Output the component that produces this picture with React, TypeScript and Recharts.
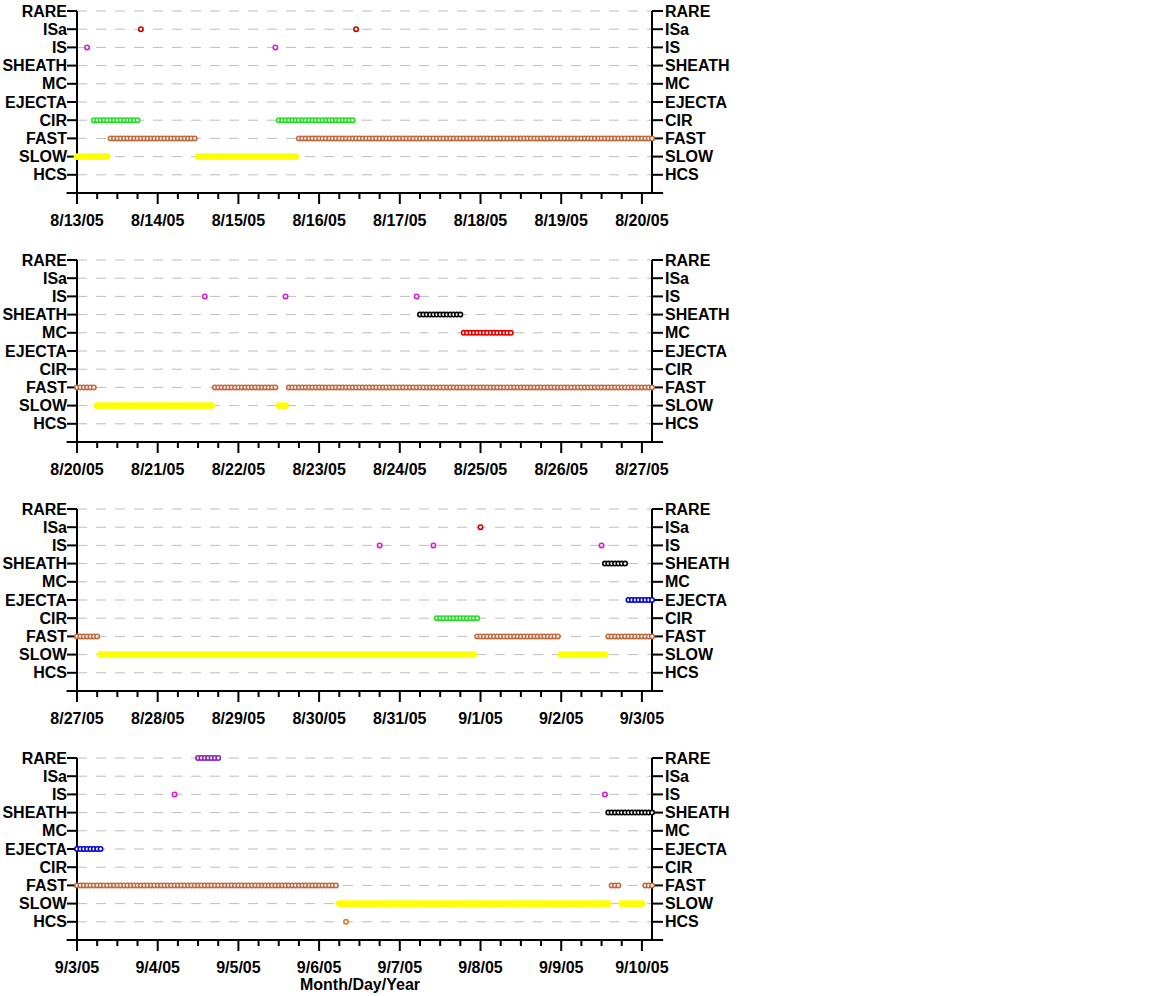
import React from "react";
import {
  CartesianGrid,
  ReferenceLine,
  Scatter,
  ScatterChart,
  XAxis,
  YAxis,
} from "recharts";

/* Solar wind classification by hour, four weekly panels */

const CLASSES = ["HCS", "SLOW", "FAST", "CIR", "EJECTA", "MC", "SHEATH", "IS", "ISa", "RARE"];

const CLASS_COLORS: Record<string, string> = {
  HCS: "#e07a2e",
  SLOW: "#ffff00",
  FAST: "#c0693f",
  CIR: "#1fe01f",
  EJECTA: "#0000d0",
  MC: "#e00000",
  SHEATH: "#000000",
  IS: "#d020d0",
  ISa: "#c80000",
  RARE: "#8a1fb8",
};

const WEEK1_DATES = ["8/13/05", "8/14/05", "8/15/05", "8/16/05", "8/17/05", "8/18/05", "8/19/05", "8/20/05"];
const WEEK2_DATES = ["8/20/05", "8/21/05", "8/22/05", "8/23/05", "8/24/05", "8/25/05", "8/26/05", "8/27/05"];
const WEEK3_DATES = ["8/27/05", "8/28/05", "8/29/05", "8/30/05", "8/31/05", "9/1/05", "9/2/05", "9/3/05"];
const WEEK4_DATES = ["9/3/05", "9/4/05", "9/5/05", "9/6/05", "9/7/05", "9/8/05", "9/9/05", "9/10/05"];

// runs of hourly classifications: [class, first hour, last hour]
type Run = [string, number, number];

const WEEK1_RUNS: Run[] = [
  ["SLOW", 0, 9], ["SLOW", 36, 65],
  ["FAST", 10, 35], ["FAST", 66, 171],
  ["CIR", 5, 18], ["CIR", 60, 82],
  ["IS", 3, 3], ["IS", 59, 59],
  ["ISa", 19, 19], ["ISa", 83, 83],
];

const WEEK2_RUNS: Run[] = [
  ["FAST", 0, 5], ["FAST", 41, 59], ["FAST", 63, 171],
  ["SLOW", 6, 40], ["SLOW", 60, 62],
  ["IS", 38, 38], ["IS", 62, 62], ["IS", 101, 101],
  ["SHEATH", 102, 114],
  ["MC", 115, 129],
];

const WEEK3_RUNS: Run[] = [
  ["FAST", 0, 6], ["FAST", 119, 143], ["FAST", 158, 171],
  ["SLOW", 7, 118], ["SLOW", 144, 157],
  ["CIR", 107, 119],
  ["IS", 90, 90], ["IS", 106, 106], ["IS", 156, 156],
  ["ISa", 120, 120],
  ["SHEATH", 157, 163],
  ["EJECTA", 164, 171],
];

const WEEK4_RUNS: Run[] = [
  ["EJECTA", 0, 7],
  ["FAST", 0, 77], ["FAST", 159, 161], ["FAST", 169, 171],
  ["SLOW", 78, 158], ["SLOW", 162, 168],
  ["HCS", 80, 80],
  ["IS", 29, 29], ["IS", 157, 157],
  ["RARE", 36, 42],
  ["SHEATH", 158, 171],
];

const HOUR_TICKS = [0, 6, 12, 18, 24, 30, 36, 42, 48, 54, 60, 66, 72, 78, 84, 90, 96, 102, 108, 114, 120, 126, 132, 138, 144, 150, 156, 162, 168];

const FONT = "'Liberation Sans', Arial, Helvetica, sans-serif";
const labelStyle = { fontFamily: FONT, fontWeight: 700, fontSize: 16, fill: "#000" };

function pointsFor(runs: Run[], cls: string) {
  const pts: { x: number; y: number }[] = [];
  runs
    .filter((r) => r[0] === cls)
    .forEach(([, a, b]) => {
      for (let h = a; h <= b; h++) pts.push({ x: h, y: CLASSES.indexOf(cls) + 1 });
    });
  return pts;
}

function DayTick(props: any) {
  const { x, y, payload, dates } = props;
  const major = payload.value % 24 === 0;
  return (
    <g>
      <line x1={x} x2={x} y1={y} y2={y + (major ? 11 : 6)} stroke="#000" strokeWidth={2} />
      {major && (
        <text x={x} y={y + 33} textAnchor="middle" style={labelStyle}>
          {dates[payload.value / 24]}
        </text>
      )}
    </g>
  );
}

function Panel({ runs, dates }: { runs: Run[]; dates: string[] }) {
  return (
    <ScatterChart width={740} height={249} margin={{ top: 11, right: 0, bottom: 0, left: 0 }}>
      <CartesianGrid
        yAxisId="l"
        vertical={false}
        stroke="#bdbdbd"
        strokeDasharray="10 9"
      />
      <XAxis
        type="number"
        dataKey="x"
        domain={[0, 171]}
        ticks={HOUR_TICKS}
        interval={0}
        height={56}
        axisLine={false}
        tickLine={false}
        tickSize={0}
        tickMargin={0}
        tick={<DayTick dates={dates} />}
      />
      <YAxis
        yAxisId="l"
        type="number"
        dataKey="y"
        domain={[0, 10]}
        ticks={[1, 2, 3, 4, 5, 6, 7, 8, 9, 10]}
        interval={0}
        width={77}
        tickSize={10}
        tickMargin={0}
        tickFormatter={(v) => CLASSES[v - 1]}
        axisLine={{ stroke: "#000", strokeWidth: 2 }}
        tickLine={{ stroke: "#000", strokeWidth: 2 }}
        tick={labelStyle}
      />
      <YAxis
        yAxisId="r"
        orientation="right"
        type="number"
        domain={[0, 10]}
        allowDataOverflow
        ticks={[1, 2, 3, 4, 5, 6, 7, 8, 9, 10]}
        interval={0}
        width={88}
        tickSize={11}
        tickMargin={2}
        tickFormatter={(v) => CLASSES[v - 1]}
        axisLine={{ stroke: "#000", strokeWidth: 2 }}
        tickLine={{ stroke: "#000", strokeWidth: 2 }}
        tick={labelStyle}
      />
      <ReferenceLine
        yAxisId="l"
        segment={[{ x: -3.1, y: 0 }, { x: 174.3, y: 0 }]}
        stroke="#000"
        strokeWidth={2}
        ifOverflow="visible"
      />
      {CLASSES.map((cls) => {
        const data = pointsFor(runs, cls);
        if (!data.length) return null;
        const color = CLASS_COLORS[cls];
        const solid = cls === "SLOW";
        return (
          <Scatter
            key={cls}
            yAxisId="l"
            data={data}
            isAnimationActive={false}
            shape={(p: any) => (
              <circle
                cx={p.cx}
                cy={p.cy}
                r={solid ? 2.6 : 2.2}
                fill={solid ? color : "#fff"}
                stroke={color}
                strokeWidth={1.6}
              />
            )}
          />
        );
      })}
    </ScatterChart>
  );
}

export default function App() {
  return (
    <div style={{ position: "absolute", left: 0, top: 0, width: 1152, height: 996, background: "#fff" }}>
      <div style={{ position: "absolute", left: 0, top: 0 }}>
        <Panel runs={WEEK1_RUNS} dates={WEEK1_DATES} />
      </div>
      <div style={{ position: "absolute", left: 0, top: 249 }}>
        <Panel runs={WEEK2_RUNS} dates={WEEK2_DATES} />
      </div>
      <div style={{ position: "absolute", left: 0, top: 498 }}>
        <Panel runs={WEEK3_RUNS} dates={WEEK3_DATES} />
      </div>
      <div style={{ position: "absolute", left: 0, top: 747 }}>
        <Panel runs={WEEK4_RUNS} dates={WEEK4_DATES} />
      </div>
      <div
        style={{
          position: "absolute",
          left: 260,
          top: 976,
          width: 200,
          textAlign: "center",
          fontFamily: FONT,
          fontWeight: 700,
          fontSize: 16,
        }}
      >
        Month/Day/Year
      </div>
    </div>
  );
}
